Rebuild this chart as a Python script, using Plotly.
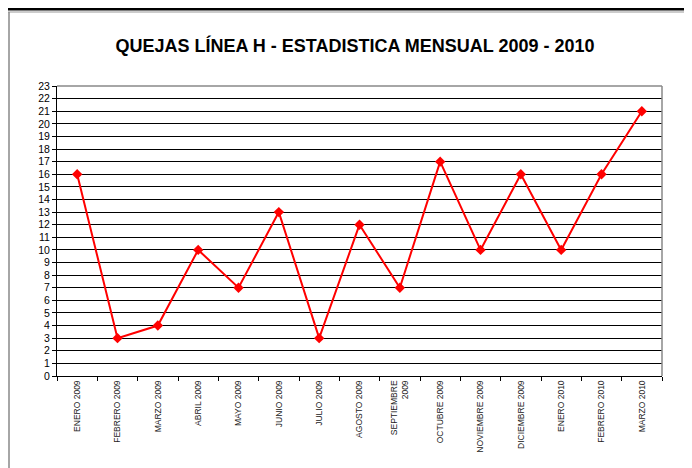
import plotly.graph_objects as go

categories = ["ENERO 2009", "FEBRERO 2009", "MARZO 2009", "ABRIL 2009", "MAYO 2009",
              "JUNIO 2009", "JULIO 2009", "AGOSTO 2009", "SEPTIEMBRE<br>2009",
              "OCTUBRE 2009", "NOVIEMBRE 2009", "DICIEMBRE 2009", "ENERO 2010",
              "FEBRERO 2010", "MARZO 2010"]
quejas = [16, 3, 4, 10, 7, 13, 3, 12, 7, 17, 10, 16, 10, 16, 21]
y_ticks = list(range(0, 24))

# page body margin offsets the figure by 8px; work in figure coordinates
OFF = 8
W, H = 692, 468
L, R, T, B = 57 - OFF, 662 - OFF, 86 - OFF, 376 - OFF

def px(x):
    return (x - OFF - L) / (R - L)

def py(y):
    return (B - (y - OFF)) / (B - T)

fig = go.Figure()
fig.add_trace(go.Scatter(
    x=categories, y=quejas, mode="lines+markers",
    line=dict(color="#ff0000", width=2),
    marker=dict(symbol="diamond", size=8, color="#ff0000"),
    cliponaxis=False, showlegend=False,
))

fig.update_layout(
    width=W, height=H,
    margin=dict(l=L, r=W - R, t=T, b=H - B),
    paper_bgcolor="white", plot_bgcolor="white",
    font=dict(family="Liberation Sans, Arial, sans-serif", color="black"),
    title=dict(text="<b>QUEJAS LÍNEA H - ESTADISTICA MENSUAL 2009 - 2010</b>",
               x=(355 - OFF) / W, xanchor="center", y=1 - (46 - OFF) / H, yanchor="middle",
               font=dict(size=18, family="Liberation Sans, Arial, sans-serif", color="black")),
    xaxis=dict(
        type="category", tickangle=-90, tickson="boundaries",
        ticks="outside", ticklen=4, tickcolor="black",
        showline=True, linecolor="black", linewidth=1,
        showgrid=False, tickfont=dict(size=8.5, color="#222"),
        range=[-0.5, len(categories) - 0.5], fixedrange=True,
        automargin=False,
    ),
    yaxis=dict(
        range=[0, 23], tickvals=y_ticks, ticktext=[str(v) for v in y_ticks],
        ticks="outside", ticklen=4, tickcolor="black",
        showline=True, linecolor="black", linewidth=1,
        showgrid=True, gridcolor="black", gridwidth=1,
        zeroline=False, tickfont=dict(size=10.5, color="black"),
        automargin=False,
    ),
    shapes=[
        # top double rule
        dict(type="line", xref="paper", yref="paper", x0=px(0), x1=px(W + OFF), y0=py(9), y1=py(9),
             line=dict(color="black", width=3)),
        dict(type="line", xref="paper", yref="paper", x0=px(0), x1=px(W + OFF), y0=py(12), y1=py(12),
             line=dict(color="#999", width=1)),
        # left frame border (as close to the page edge as the figure allows)
        dict(type="line", xref="paper", yref="paper", x0=px(OFF + 1), x1=px(OFF + 1), y0=py(12), y1=py(H + OFF),
             line=dict(color="#888", width=1.5)),
        # plot border top and right (gray)
        dict(type="line", xref="paper", yref="paper", x0=0, x1=1, y0=1, y1=1,
             line=dict(color="#888", width=1.5)),
        dict(type="line", xref="paper", yref="paper", x0=1, x1=1, y0=0, y1=1,
             line=dict(color="#888", width=1.5)),
    ],
)

fig.write_html("out.html")
